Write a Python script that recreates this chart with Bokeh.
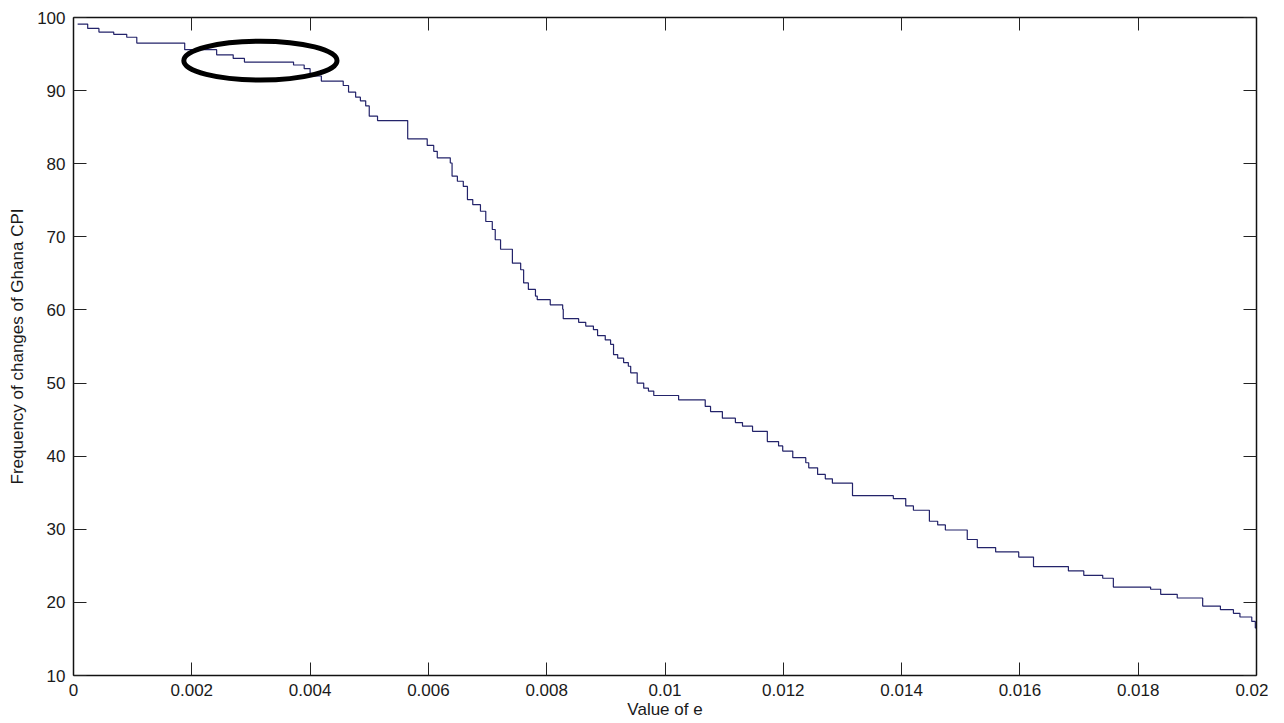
from bokeh.plotting import figure
from bokeh.models import Range1d, LinearAxis, FixedTicker, CustomJSTickFormatter
from bokeh.embed import file_html
from bokeh.resources import INLINE

# ---- data ----
e_values = [0.00007, 0.00024, 0.00043, 0.00068, 0.00090, 0.00107, 0.00188, 0.00242,
            0.00270, 0.00289, 0.00372, 0.00390, 0.00400, 0.00419, 0.00456, 0.00465,
            0.00477, 0.00485, 0.00494, 0.00500, 0.00514, 0.00565, 0.00598, 0.00609,
            0.00615, 0.00637, 0.00640, 0.00649, 0.00659, 0.00666, 0.00675, 0.00688,
            0.00697, 0.00708, 0.00713, 0.00722, 0.00742, 0.00756, 0.00761, 0.00769,
            0.00781, 0.00784, 0.00806, 0.00827, 0.00828, 0.00854, 0.00866, 0.00879,
            0.00886, 0.00899, 0.00908, 0.00913, 0.00920, 0.00930, 0.00938, 0.00942,
            0.00953, 0.00964, 0.00972, 0.00981, 0.01023, 0.01068, 0.01077, 0.01097,
            0.01119, 0.01131, 0.01148, 0.01173, 0.01192, 0.01199, 0.01216, 0.01238,
            0.01243, 0.01258, 0.01271, 0.01283, 0.01317, 0.01386, 0.01407, 0.01420,
            0.01447, 0.01461, 0.01474, 0.01511, 0.01528, 0.01559, 0.01598, 0.01623,
            0.01682, 0.01708, 0.01740, 0.01758, 0.01821, 0.01838, 0.01866, 0.01909,
            0.01939, 0.01961, 0.01972, 0.01992, 0.01998, 0.02000]
freq_values = [99.1, 98.5, 98.0, 97.7, 97.3, 96.5, 95.6, 94.9,
               94.4, 93.9, 93.5, 93.0, 92.0, 91.3, 90.7, 89.8,
               89.1, 88.6, 87.9, 86.5, 85.9, 83.4, 82.5, 81.7,
               80.8, 80.1, 78.3, 77.6, 76.9, 75.1, 74.4, 73.5,
               72.1, 71.0, 69.6, 68.3, 66.4, 65.5, 63.7, 62.8,
               61.9, 61.4, 60.7, 60.1, 58.8, 58.3, 57.8, 57.3,
               56.5, 55.9, 55.3, 53.9, 53.4, 52.8, 52.3, 51.4,
               50.0, 49.3, 48.9, 48.3, 47.7, 46.8, 46.1, 45.2,
               44.6, 44.1, 43.4, 42.0, 41.4, 40.7, 39.8, 39.1,
               38.4, 37.5, 36.9, 36.3, 34.6, 34.2, 33.2, 32.6,
               31.1, 30.6, 29.9, 28.6, 27.5, 26.9, 26.2, 24.9,
               24.3, 23.7, 23.3, 22.1, 21.8, 21.1, 20.6, 19.5,
               19.0, 18.5, 18.0, 17.4, 16.5, 16.5]

x_ticks = [0, 0.002, 0.004, 0.006, 0.008, 0.01, 0.012, 0.014, 0.016, 0.018, 0.02]
x_tick_labels = ["0", "0.002", "0.004", "0.006", "0.008", "0.01", "0.012",
                 "0.014", "0.016", "0.018", "0.02"]
y_ticks = [10, 20, 30, 40, 50, 60, 70, 80, 90, 100]
y_tick_labels = [str(v) for v in y_ticks]

# highlighted region (ellipse annotation)
ellipse_x = [0.00316]
ellipse_y = [94.1]
ellipse_w = [0.00259]
ellipse_h = [5.3]

x_title = "Value of e"
y_title = "Frequency of changes of Ghana CPI"

FONT = "Liberation Sans"
FS = "17px"
TXT = "#1a1a1a"

p = figure(frame_width=1183, frame_height=658,
           min_border_left=73, min_border_right=12, min_border_top=17, min_border_bottom=48,
           x_range=Range1d(0, 0.02), y_range=Range1d(10, 100),
           output_backend="svg", toolbar_location=None,
           x_axis_location=None, y_axis_location=None)
p.grid.visible = False
p.outline_line_color = None
p.background_fill_color = "white"
p.border_fill_color = "white"


def style_axis(ax, ticks, labels, show_labels):
    ax.ticker = FixedTicker(ticks=ticks)
    ax.minor_tick_line_color = None
    ax.major_tick_in = 13
    ax.major_tick_out = 0
    ax.major_tick_line_color = "#222222"
    ax.major_tick_line_width = 1
    ax.axis_line_color = "#111111"
    ax.axis_line_width = 1.5
    ax.major_label_text_font = FONT
    ax.major_label_text_font_size = FS
    ax.major_label_text_color = TXT
    ax.axis_label_text_font = FONT
    ax.axis_label_text_font_size = FS
    ax.axis_label_text_font_style = "normal"
    ax.axis_label_text_color = TXT
    if show_labels:
        ax.major_label_overrides = {t: l for t, l in zip(ticks, labels)}
    else:
        ax.formatter = CustomJSTickFormatter(code="return ''")
        ax.major_label_standoff = 0


xb = LinearAxis(axis_label=x_title)
style_axis(xb, x_ticks, x_tick_labels, True)
xb.major_label_standoff = 8
xb.axis_label_standoff = 1
p.add_layout(xb, "below")

yl = LinearAxis(axis_label=y_title)
style_axis(yl, y_ticks, y_tick_labels, True)
yl.major_label_standoff = 8
yl.axis_label_standoff = 7
p.add_layout(yl, "left")

xt = LinearAxis()
style_axis(xt, x_ticks, x_tick_labels, False)
p.add_layout(xt, "above")

yr = LinearAxis()
style_axis(yr, y_ticks, y_tick_labels, False)
p.add_layout(yr, "right")

p.step(e_values, freq_values, mode="after", line_color="#23236a", line_width=1.2)

p.ellipse(x=ellipse_x, y=ellipse_y, width=ellipse_w, height=ellipse_h,
          fill_color=None, line_color="black", line_width=5)

open("out.html", "w").write(file_html(p, INLINE))
